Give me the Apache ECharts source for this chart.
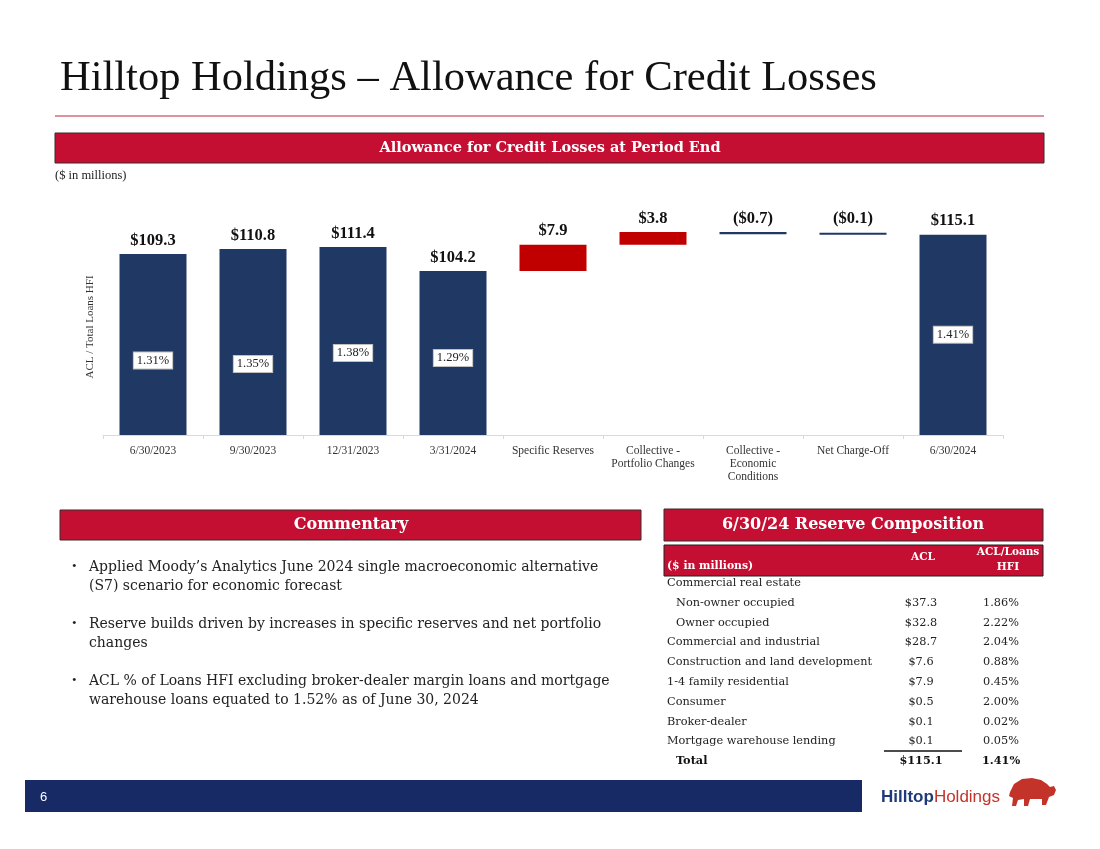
<!DOCTYPE html>
<html>
<head>
<meta charset="utf-8">
<script src="https://cdn.jsdelivr.net/npm/echarts@6/dist/echarts.min.js"></script>
<style>html,body{margin:0;padding:0;background:#fff}#c{width:1100px;height:849px}</style>
</head>
<body>
<div id="c"></div>
<script>
// ---------- data ----------
const categories = ['6/30/2023','9/30/2023','12/31/2023','3/31/2024','Specific Reserves','Collective -\nPortfolio Changes','Collective -\nEconomic\nConditions','Net Charge-Off','6/30/2024'];
const periodTotals = [109.3, 110.8, 111.4, 104.2, null, null, null, null, 115.1];
const changes = [null, null, null, null, 7.9, 3.8, -0.7, -0.1, null];
const aclRatio = ['1.31%','1.35%','1.38%','1.29%', null, null, null, null, '1.41%'];

const commentary = [
  ['Applied Moody\u2019s Analytics June 2024 single macroeconomic alternative', '(S7) scenario for economic forecast'],
  ['Reserve builds driven by increases in specific reserves and net portfolio', 'changes'],
  ['ACL % of Loans HFI excluding broker-dealer margin loans and mortgage', 'warehouse loans equated to 1.52% as of June 30, 2024']
];

const tableRows = ['Commercial real estate','Non-owner occupied','Owner occupied','Commercial and industrial','Construction and land development','1-4 family residential','Consumer','Broker-dealer','Mortgage warehouse lending'];
const tableAcl = [null, 37.3, 32.8, 28.7, 7.6, 7.9, 0.5, 0.1, 0.1];
const tablePct = [null, '1.86%', '2.22%', '2.04%', '0.88%', '0.45%', '2.00%', '0.02%', '0.05%'];
const tableSubRows = ['Non-owner occupied', 'Owner occupied'];
const tableTotalAcl = 115.1;
const tableTotalPct = '1.41%';

// ---------- derived waterfall ----------
const base = [], inc = [], dec = [], tot = [];
let running = 0;
for (let i = 0; i < categories.length; i++) {
  if (periodTotals[i] != null) {
    running = periodTotals[i];
    base.push(0); tot.push(periodTotals[i]); inc.push('-'); dec.push('-');
  } else {
    const c = changes[i];
    if (c >= 0) { base.push(+running.toFixed(2)); inc.push(c); dec.push('-'); running += c; }
    else { running += c; base.push(+running.toFixed(2)); dec.push(-c); inc.push('-'); }
    tot.push('-');
  }
}
// label nudges (style only)
const pctNudge = [16, 22, 12, 5, 0, 0, 0, 0, 0];
const pctData = periodTotals.map((v, i) => v == null ? '-' : {value: v, label: {offset: [0, pctNudge[i]]}});

const NAVY = '#203864', RED = '#C00000', BANNER = '#C40E32';
const SERIF = '"Liberation Serif", serif';
const WSERIF = '"DejaVu Serif", serif';
const SANS = '"Liberation Sans", Arial, sans-serif';

const valLabel = {show: true, position: 'top', distance: 5, color: '#111', fontFamily: SERIF, fontWeight: 'bold', fontSize: 16.5};

// ---------- graphics ----------
const g = [];
function txt(x, y, text, font, fill, align, extra) {
  g.push(Object.assign({type: 'text', silent: true, style: {x, y, text, font, fill, textAlign: align || 'left', textVerticalAlign: 'middle'}}, extra || {}));
}
function rect(x, y, w, h, fill, stroke) {
  g.push({type: 'rect', silent: true, shape: {x, y, width: w, height: h}, style: {fill, stroke: stroke || null, lineWidth: stroke ? 1 : 0}});
}
// title rule
g.push({type: 'line', silent: true, shape: {x1: 55, y1: 116, x2: 1044, y2: 116}, style: {stroke: '#B8283F', lineWidth: 1.2}});
// banners
rect(55, 133, 989, 30, BANNER, '#3a2a2a');
txt(550, 148.5, 'Allowance for Credit Losses at Period End', 'bold 14.5px ' + WSERIF, '#fff', 'center');
txt(55, 176, '($ in millions)', '12.5px ' + SERIF, '#222');
rect(60, 510, 581, 30, BANNER, '#3a2a2a');
txt(351, 525, 'Commentary', 'bold 16px ' + WSERIF, '#fff', 'center');
rect(664, 509, 379, 32, BANNER, '#3a2a2a');
txt(853, 525, '6/30/24 Reserve Composition', 'bold 16px ' + WSERIF, '#fff', 'center');
// y-axis caption
g.push({type: 'text', silent: true, x: 90, y: 327, rotation: Math.PI / 2,
  style: {x: 0, y: 0, text: 'ACL / Total Loans HFI', font: '11px ' + SERIF, fill: '#333', textAlign: 'center', textVerticalAlign: 'middle'}});
// commentary bullets
commentary.forEach((lines, k) => {
  const y0 = 567 + k * 57;
  txt(72, y0, '\u2022', '13px ' + SERIF, '#222');
  lines.forEach((l, j) => txt(89, y0 + j * 19.5, l, '14px ' + WSERIF, '#222'));
});
// table header
rect(664, 545, 379, 31, BANNER, '#222');
txt(667, 566, '($ in millions)', 'bold 10.8px ' + WSERIF, '#fff');
txt(923, 557, 'ACL', 'bold 10.5px ' + WSERIF, '#fff', 'center');
txt(1008, 552, 'ACL/Loans', 'bold 10.5px ' + WSERIF, '#fff', 'center');
txt(1008, 567, 'HFI', 'bold 10.5px ' + WSERIF, '#fff', 'center');
tableRows.forEach((r, i) => {
  const y = 583 + i * 19.8;
  const indent = tableSubRows.includes(r) ? 9 : 0;
  txt(667 + indent, y, r, '11.3px ' + WSERIF, '#222');
  if (tableAcl[i] != null) txt(921, y, '$' + tableAcl[i].toFixed(1), '11.3px ' + WSERIF, '#222', 'center');
  if (tablePct[i] != null) txt(1001, y, tablePct[i], '11.3px ' + WSERIF, '#222', 'center');
});
g.push({type: 'line', silent: true, shape: {x1: 884, y1: 751, x2: 962, y2: 751}, style: {stroke: '#111', lineWidth: 1.5}});
txt(676, 761, 'Total', 'bold 11.3px ' + WSERIF, '#111');
txt(921, 761, '$' + tableTotalAcl.toFixed(1), 'bold 11.3px ' + WSERIF, '#111', 'center');
txt(1001, 761, tableTotalPct, 'bold 11.3px ' + WSERIF, '#111', 'center');
// footer
rect(25, 780, 837, 32, '#172A66');
txt(40, 797, '6', '13px ' + SANS, '#fff');
g.push({type: 'text', silent: true, style: {x: 881, y: 797, textVerticalAlign: 'middle',
  text: '{a|Hilltop}{b|Holdings}', rich: {a: {fontFamily: SANS, fontWeight: 'bold', fontSize: 17, fill: '#1F3A7A', color: '#1F3A7A'}, b: {fontFamily: SANS, fontSize: 17, fill: '#C4332A', color: '#C4332A'}}}});
// buffalo (rough silhouette)
g.push({type: 'polygon', silent: true, shape: {points: [
  [1010,792],[1014,784],[1022,779],[1032,778],[1041,780],[1047,784],[1050,787],[1054,786],[1056,790],[1054,795],[1049,797],
  [1046,805],[1042,805],[1042,799],[1030,799],[1028,806],[1024,806],[1024,799],[1018,800],[1016,806],[1012,806],[1013,798],[1009,796]
]}, style: {fill: '#C4332A'}});

// ---------- chart ----------
const option = {
  backgroundColor: '#fff',
  animation: false,
  title: {text: 'Hilltop Holdings \u2013 Allowance for Credit Losses', left: 55, top: 52,
    textStyle: {fontFamily: SERIF, fontWeight: 'normal', fontSize: 42.5, color: '#111'}},
  grid: {left: 103, right: 97, top: 185, bottom: 414, containLabel: false},
  xAxis: {type: 'category', data: categories,
    axisLine: {lineStyle: {color: '#d9d9d9', width: 1}},
    axisTick: {show: true, length: 4, lineStyle: {color: '#d9d9d9'}},
    axisLabel: {interval: 0, margin: 9, color: '#333', fontFamily: SERIF, fontSize: 11.5, lineHeight: 13}},
  yAxis: {type: 'value', min: 55, max: 130, show: false},
  series: [
    {name: 'base', type: 'bar', stack: 'wf', barWidth: '67%', itemStyle: {color: 'transparent'}, data: base, silent: true},
    {name: 'total', type: 'bar', stack: 'wf', barWidth: '67%', itemStyle: {color: NAVY}, data: tot,
      label: Object.assign({}, valLabel, {formatter: p => '$' + (+p.value).toFixed(1)})},
    {name: 'increase', type: 'bar', stack: 'wf', barWidth: '67%', itemStyle: {color: RED}, data: inc,
      label: Object.assign({}, valLabel, {formatter: p => '$' + (+p.value).toFixed(1)})},
    {name: 'decrease', type: 'bar', stack: 'wf', barWidth: '67%', barMinHeight: 2, itemStyle: {color: NAVY}, data: dec,
      label: Object.assign({}, valLabel, {formatter: p => '($' + (+p.value).toFixed(1) + ')'})},
    {name: 'ratio', type: 'bar', barGap: '-100%', barWidth: '67%', itemStyle: {color: 'transparent'}, data: pctData, z: 5,
      label: {show: true, position: 'inside', formatter: p => aclRatio[p.dataIndex] || '',
        backgroundColor: '#fff', borderColor: '#bfbfbf', borderWidth: 1, padding: [2, 3, 1, 3],
        color: '#222', fontFamily: SERIF, fontSize: 12.5}}
  ],
  graphic: g
};
const chart = echarts.init(document.getElementById('c'), null, {renderer: 'canvas'});
chart.setOption(option);
</script>
</body>
</html>
